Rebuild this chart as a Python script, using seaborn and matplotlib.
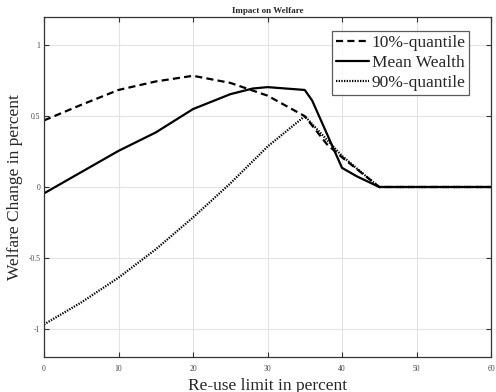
import matplotlib
matplotlib.use("Agg")
import matplotlib.pyplot as plt
import seaborn as sns
import pandas as pd

# Data
q10_x = [0, 5, 10, 15, 20, 25, 30, 35, 38, 40, 45, 50, 55, 60]
q10_y = [0.47, 0.58, 0.685, 0.745, 0.785, 0.735, 0.645, 0.50, 0.30, 0.21, 0.0, 0.0, 0.0, 0.0]

mean_x = [0, 5, 10, 15, 20, 25, 28, 30, 35, 36, 40, 42, 45, 50, 55, 60]
mean_y = [-0.045, 0.105, 0.255, 0.385, 0.55, 0.655, 0.695, 0.705, 0.685, 0.61, 0.135, 0.075, 0.0, 0.0, 0.0, 0.0]

q90_x = [0, 5, 10, 15, 20, 25, 30, 35, 40, 42, 45, 50, 55, 60]
q90_y = [-0.97, -0.815, -0.64, -0.44, -0.215, 0.025, 0.285, 0.50, 0.22, 0.13, 0.0, 0.0, 0.0, 0.0]

labels = ["10%-quantile", "Mean Wealth", "90%-quantile"]
x_ticks = [0, 10, 20, 30, 40, 50, 60]
y_ticks = [-1, -0.5, 0, 0.5, 1]
y_tick_labels = ["-1", "-0.5", "0", "0.5", "1"]

sns.set_theme(style="white")
plt.rcParams['font.family'] = ['Liberation Serif', 'DejaVu Serif']

fig = plt.figure(figsize=(4.96, 3.92), dpi=100)
ax = fig.add_axes([44/496, 1-357/392, (491-44)/496, (357-17)/392])

series = [(q10_x, q10_y, labels[0], (0, (3.2, 1.9))),
          (mean_x, mean_y, labels[1], '-'),
          (q90_x, q90_y, labels[2], (0, (0.6, 0.6)))]
for xs, ys, lab, ls in series:
    df = pd.DataFrame({"x": xs, "y": ys})
    sns.lineplot(data=df, x="x", y="y", ax=ax, color="black", linewidth=1.6,
                 linestyle=ls, label=lab)

ax.set_xlim(0, 60)
ax.set_ylim(-1.2, 1.2)
ax.set_xticks(x_ticks)
ax.set_xticklabels([str(t) for t in x_ticks])
ax.set_yticks(y_ticks)
ax.set_yticklabels(y_tick_labels)
ax.grid(True, color="#e3e3e3", linewidth=0.8)
ax.set_axisbelow(True)
ax.tick_params(direction="in", length=3.5, width=0.8, colors="#333333",
               labelsize=5.5, labelcolor="#444444", top=True, right=True,
               bottom=True, left=True)
ax.tick_params(axis="x", pad=6)
ax.tick_params(axis="y", pad=2.5)
for s in ax.spines.values():
    s.set_color("#333333")
    s.set_linewidth(0.9)

ax.set_xlabel("Re-use limit in percent", fontsize=12.5, labelpad=3)
ax.set_ylabel("Welfare Change in percent", fontsize=12.5, labelpad=4)
ax.set_title("Impact on Welfare", fontsize=6.5, fontweight="bold", pad=3)

leg = ax.legend(loc="upper right", bbox_to_anchor=((469-44)/447, (357-31)/340),
                fontsize=12.5, frameon=True, fancybox=False,
                edgecolor="#333333", handlelength=1.9, handletextpad=0.17,
                borderpad=0.2, labelspacing=0.24, borderaxespad=0.0)
leg.get_frame().set_linewidth(0.9)

fig.savefig("out.png", dpi=100)
